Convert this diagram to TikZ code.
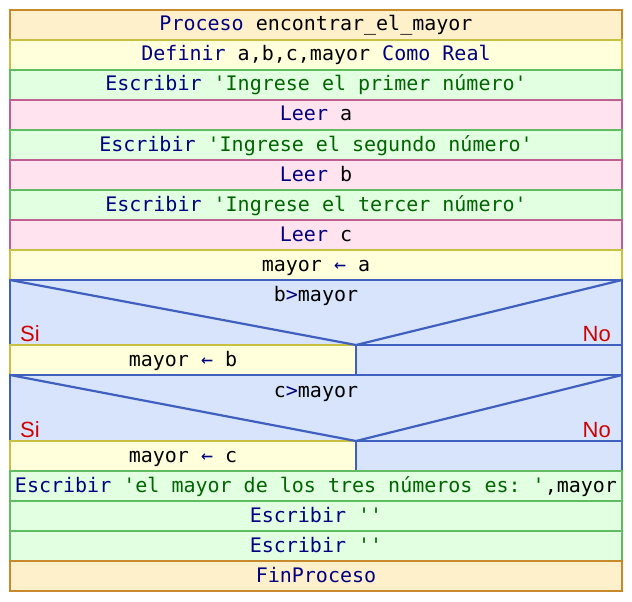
\documentclass[tikz,border=0pt]{standalone}
\usepackage{fontspec}
\setmonofont{DejaVu Sans Mono}
\newfontfamily\branchfont{Liberation Sans}
\definecolor{kw}{HTML}{000080}
\definecolor{str}{HTML}{006400}
\definecolor{branch}{HTML}{D00000}
\definecolor{procfill}{HTML}{FFF0CC}
\definecolor{procline}{HTML}{C8882C}
\definecolor{deffill}{HTML}{FFFFDC}
\definecolor{defline}{HTML}{C8C040}
\definecolor{outfill}{HTML}{E2FFE2}
\definecolor{outline}{HTML}{60BC60}
\definecolor{infill}{HTML}{FFE4F0}
\definecolor{inline}{HTML}{C06090}
\definecolor{iffill}{HTML}{D8E4FC}
\definecolor{ifline}{HTML}{4060C0}
\newcommand{\K}[1]{\textcolor{kw}{#1}}
\newcommand{\Str}[1]{\textcolor{str}{#1}}
\newcommand{\asg}{\textcolor{kw}{←}}
\begin{document}
\begin{tikzpicture}[x=1pt,y=-1pt,
  cell/.style={draw, line width=2.2pt, minimum width=612pt, minimum height=30pt,
    inner sep=0pt, outer sep=0pt, anchor=north west,
    text height=16pt, text depth=4pt,
    font=\ttfamily\fontsize{20}{24}\selectfont, text=black},
  proc/.style={cell, fill=procfill, draw=procline},
  defn/.style={cell, fill=deffill, draw=defline},
  outp/.style={cell, fill=outfill, draw=outline},
  inp/.style={cell, fill=infill, draw=inline},
  cond/.style={cell, fill=iffill, draw=ifline},
  condtext/.style={inner sep=0pt, text height=16pt, text depth=4pt,
    font=\ttfamily\fontsize{20}{24}\selectfont},
  branchlbl/.style={inner sep=0pt, text=branch, font=\branchfont\fontsize{22}{24}\selectfont},
  diag/.style={draw=ifline, line width=2.2pt},
]
\useasboundingbox (0,0) rectangle (632,602);

% sequential statements
\node[proc] (start) at (10,10)  {\K{Proceso} encontrar\_el\_mayor};
\node[defn] (def)   at (10,40)  {\K{Definir} a,b,c,mayor \K{Como Real}};
\node[outp] (w1)    at (10,70)  {\K{Escribir} \Str{'Ingrese el primer número'}};
\node[inp]  (r1)    at (10,100) {\K{Leer} a};
\node[outp] (w2)    at (10,130) {\K{Escribir} \Str{'Ingrese el segundo número'}};
\node[inp]  (r2)    at (10,160) {\K{Leer} b};
\node[outp] (w3)    at (10,190) {\K{Escribir} \Str{'Ingrese el tercer número'}};
\node[inp]  (r3)    at (10,220) {\K{Leer} c};
\node[defn] (a0)    at (10,250) {mayor \asg{} a};

% first condition
\node[cond, minimum height=65pt] (if1) at (10,280) {};
\node[defn, minimum width=346pt] (yes1) at (10,345) {mayor \asg{} b};
\node[cond, minimum width=266pt] (no1)  at (356,345) {};
\draw[diag] (if1.north west) -- (yes1.north east) -- (if1.north east);
\node[condtext] (c1) at (316,295) {b\K{>}mayor};
\node[branchlbl, anchor=base west] (si1) at (20,341) {Si};
\node[branchlbl, anchor=base east] (no1l) at (611,341) {No};

% second condition
\node[cond, minimum height=66pt] (if2) at (10,375) {};
\node[defn, minimum width=346pt] (yes2) at (10,441) {mayor \asg{} c};
\node[cond, minimum width=266pt] (no2)  at (356,441) {};
\draw[diag] (if2.north west) -- (yes2.north east) -- (if2.north east);
\node[condtext] (c2) at (316,391) {c\K{>}mayor};
\node[branchlbl, anchor=base west] (si2) at (20,437) {Si};
\node[branchlbl, anchor=base east] (no2l) at (611,437) {No};

% output and end
\node[outp] (w4)  at (10,471) {\K{Escribir} \Str{'el mayor de los tres números es: '},mayor};
\node[outp] (w5)  at (10,501) {\K{Escribir} \Str{''}};
\node[outp] (w6)  at (10,531) {\K{Escribir} \Str{''}};
\node[proc] (end) at (10,561) {\K{FinProceso}};
\end{tikzpicture}
\end{document}
